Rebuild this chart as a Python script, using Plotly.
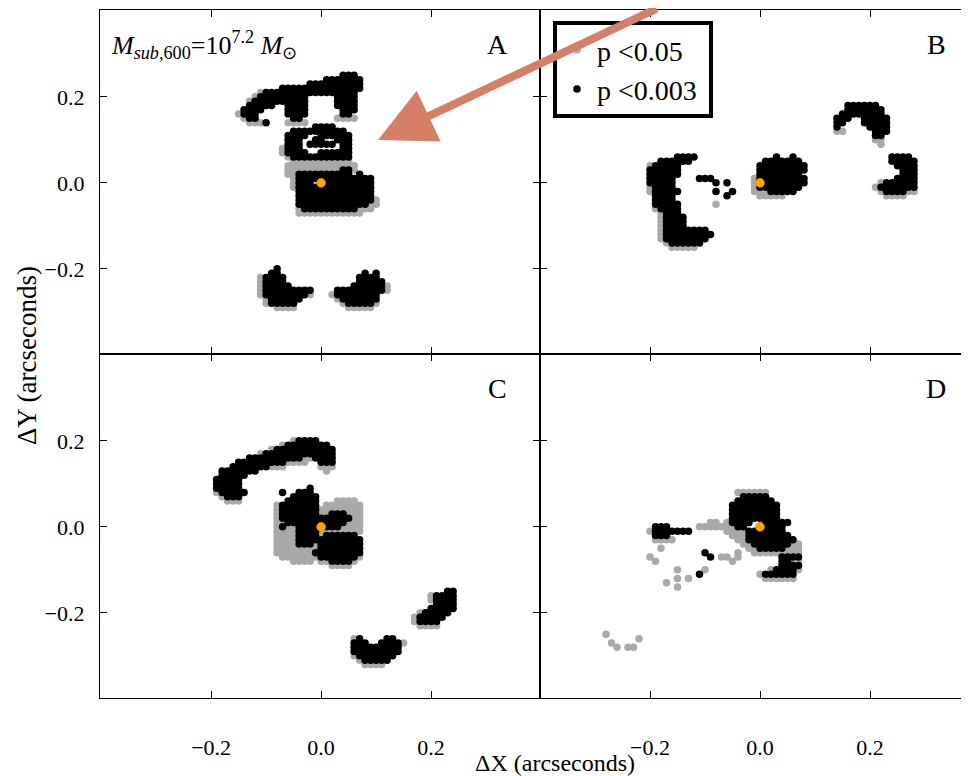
import plotly.graph_objects as go

GRID = 0.01  # grid step of the test positions (arcseconds)

# Each run: (row y-index, first x-index, last x-index) on the GRID lattice.
# ---------------- Panel A ----------------
A_black = [
    (25, 4, 6), (24, 1, 7), (23, -2, 7), (22, -7, 7), (21, -10, 6), (20, -11, -3), (20, 3, 6),
    (19, -12, -3), (19, 3, 6), (18, -13, -9), (18, -6, -3), (18, 3, 6), (17, -14, -11), (17, -6, -3),
    (17, 4, 6), (16, -14, -12), (16, -6, -3), (16, 4, 5), (15, -13, -12), (15, -5, -4), (14, -10, -10),
    (13, -1, 2), (12, -5, 4), (11, -6, -3), (11, 0, 5), (10, -6, -4), (10, -1, 0), (10, 3, 5),
    (9, -6, -4), (9, -2, 2), (9, 4, 5), (8, -6, -4), (8, 4, 5), (7, -6, -3), (7, 0, 5), (6, -5, 5),
    (3, 4, 5), (2, -4, 5), (2, 7, 7), (1, -4, 9), (0, -4, -2), (0, 1, 9), (-1, -4, 9), (-2, -4, 9),
    (-3, -4, 9), (-4, -4, 9), (-5, -4, 8), (-6, -3, 6),
    (-20, -8, -8), (-21, -9, -8), (-22, -10, -7), (-23, -10, -7), (-24, -10, -6), (-25, -10, -2),
    (-26, -10, -3), (-27, -9, -4), (-28, -9, -5),
    (-21, 8, 8), (-21, 10, 10), (-22, 7, 10), (-23, 7, 11), (-24, 6, 11), (-25, 3, 11), (-26, 3, 10),
    (-27, 4, 10), (-28, 5, 9),
]
A_gray = [
    (16, -15, -15), (15, -14, -14), (14, -13, -11), (14, -6, -3), (15, 3, 6), (19, -13, -13),
    (20, -12, -12), (21, -11, -11),
    (5, -5, 5), (6, -6, -6), (7, -7, -7), (8, -7, -7),
    (4, -6, 6), (3, -6, 6), (2, -6, -5), (1, -5, -5), (0, -5, -5), (-1, -5, -5), (-7, -4, 7),
    (-6, -4, -4), (-6, 7, 9), (-5, 9, 10), (-4, 10, 10),
    (-29, -8, -5), (-28, -10, -10), (-27, -10, -10), (-26, -11, -11), (-25, -11, -11),
    (-24, -11, -11), (-23, -11, -11), (-22, -11, -11), (-26, -2, -2),
    (-29, 5, 9), (-28, 4, 4), (-27, 3, 3), (-26, 2, 2), (-25, 12, 12), (-24, 12, 12), (-28, 10, 10),
]
# ---------------- Panel B ----------------
B_black = [
    (6, -15, -12), (5, -18, -13), (4, -19, -15), (3, -20, -15), (2, -20, -15), (1, -20, -16),
    (0, -20, -16), (-1, -19, -16), (-2, -19, -15), (-3, -19, -16), (-4, -19, -16), (-5, -19, -15),
    (-6, -18, -15), (-7, -17, -15), (-8, -17, -14), (-9, -17, -14), (-10, -17, -14), (-11, -17, -10),
    (-12, -17, -9), (-13, -17, -10), (-14, -16, -11),
    (1, -11, -9), (0, -8, -8), (0, -6, -6), (-2, -8, -8), (-2, -5, -5), (-3, -6, -6),
    (6, 3, 3), (6, 6, 6), (5, 1, 7), (4, 0, 8), (3, 0, 8), (2, 0, 7), (1, 0, 8), (0, 0, 8),
    (-1, 0, 7), (-2, 2, 6),
    (18, 16, 21), (17, 16, 22), (16, 15, 22), (15, 14, 16), (15, 19, 23), (14, 14, 15), (14, 19, 23),
    (13, 14, 14), (13, 20, 23), (12, 21, 23), (11, 21, 22),
    (6, 24, 27), (5, 24, 28), (4, 25, 28), (3, 26, 28), (2, 26, 28), (1, 25, 28), (0, 23, 28),
    (-1, 22, 28), (-2, 23, 26),
]
B_gray = [
    (4, -20, -20), (-1, -20, -20), (-2, -20, -20),
    (-6, -19, -19), (-7, -18, -18), (-8, -18, -18), (-9, -18, -18), (-10, -18, -18), (-11, -18, -18),
    (-12, -18, -18), (-13, -18, -18), (-14, -17, -17), (-15, -16, -12), (-5, -8, -8),
    (-3, 0, 4), (-2, 0, 1), (1, -1, -1), (0, -1, -1), (-1, -1, -1), (-2, -1, -1),
    (12, 14, 15), (10, 21, 22), (9, 22, 22),
    (-3, 23, 26), (-2, 22, 22), (-1, 21, 21), (0, 22, 22), (-2, 27, 28),
]
# ---------------- Panel C ----------------
C_black = [
    (20, -4, -1), (19, -6, 1), (18, -8, 2), (17, -10, 2), (16, -13, -4), (16, -1, 2), (15, -15, -7),
    (15, 0, 2), (14, -16, -10), (13, -18, -12), (12, -18, -14), (11, -19, -15), (10, -19, -15),
    (9, -19, -15), (8, -18, -14), (7, -17, -15),
    (9, -2, -2), (8, -7, -7), (8, -4, -2), (7, -5, -1), (6, -6, -1), (5, -7, -1), (4, -7, -1),
    (3, -7, -1), (3, 2, 4), (2, -7, 5), (1, -6, 4), (0, -7, -7), (0, -4, -1), (0, 1, 3),
    (-1, -4, -1), (-2, -4, -1), (-2, 1, 6), (-3, -4, 7), (-4, -4, -2), (-4, 0, 7), (-5, 0, 7),
    (-6, -1, 7), (-7, 0, 6), (-8, 2, 5),
    (-26, 7, 7), (-26, 12, 13), (-27, 6, 8), (-27, 11, 14), (-28, 6, 14), (-29, 6, 14), (-30, 7, 13),
    (-31, 8, 12),
    (-15, 23, 24), (-16, 21, 24), (-17, 21, 24), (-18, 21, 24), (-19, 20, 24), (-20, 19, 23),
    (-21, 18, 22), (-22, 18, 21),
]
C_gray = [
    (6, -17, -15), (7, -18, -18), (8, -19, -19), (14, -9, -7), (15, -6, -3), (16, -3, -2),
    (14, 0, 2), (13, 1, 1), (17, -11, -11), (18, -9, -9), (19, -7, -7), (20, -5, -5),
    (6, 3, 6), (5, 1, 7), (4, 0, 7), (3, 0, 1), (3, 5, 7), (2, 6, 7), (1, -8, -7), (1, 5, 7),
    (0, -8, -8), (0, -6, -5), (0, 4, 7), (-1, -8, -5), (-1, 0, 7), (-2, -8, -5), (-2, 0, 0),
    (-3, -8, -5), (-4, -8, -5), (-4, -1, -1), (-5, -8, -1), (-6, -8, -2), (-7, -7, -1), (-8, -5, -2),
    (-9, 2, 5), (-8, 0, 1), (-8, 6, 6), (-7, 7, 7), (2, -8, -8), (3, -8, -8), (4, -8, -8), (5, -8, -8),
    (-32, 8, 11), (-31, 7, 7), (-30, 6, 6), (-26, 6, 6), (-27, 15, 15),
    (-23, 18, 21), (-22, 17, 17), (-21, 17, 17), (-20, 18, 18), (-16, 20, 20), (-17, 20, 20),
]
# ---------------- Panel D ----------------
D_black = [
    (7, -3, 1), (6, -4, 2), (5, -5, 3), (4, -5, 3), (3, -5, 3), (2, -5, 3), (1, -5, -2), (1, 1, 5),
    (0, -4, -3), (0, 0, 4), (-1, -2, 4), (-2, -2, 5), (-3, -2, 6), (-4, -1, 5), (-5, 0, 4),
    (-7, 4, 7), (-8, 4, 5), (-9, 4, 7), (-10, 3, 6), (-11, 1, 6),
    (0, -19, -17), (-1, -19, -13), (-2, -19, -17),
    (-6, -10, -10), (-7, -9, -9), (-11, -11, -11),
]
D_gray = [
    (8, -4, 1), (1, -6, -6), (0, -6, -5), (-1, -6, -3), (-2, -5, -3), (-3, -4, -3), (-4, -3, -2),
    (-5, -2, -1), (-6, -1, 4), (-4, 6, 7), (-5, 5, 7), (-6, 5, 7),
    (-12, 1, 6), (-10, 2, 2), (-11, 0, 0), (-8, 6, 7), (-10, 7, 7),
    (-3, -19, -16), (-1, -20, -20),
    (0, -11, -7), (1, -9, -8), (0, -5, -3), (1, -5, -4),
    (-5, -18, -18), (-7, -20, -20), (-8, -19, -19), (-10, -15, -15), (-12, -15, -15),
    (-12, -13, -13), (-13, -17, -17), (-14, -15, -15), (-10, -10, -10), (-7, -7, -7),
    (-8, -5, -5), (-7, -4, -4), (-6, -4, -4), (-7, -6, -6),
    (-25, -28, -28), (-27, -27, -27), (-28, -26, -26), (-28, -24, -23), (-26, -22, -22),
]

PANELS = [("A", A_gray, A_black), ("B", B_gray, B_black), ("C", C_gray, C_black), ("D", D_gray, D_black)]
LENS_CENTER = (0.0, 0.0)
LEGEND_LABELS = ["p &lt;0.05", "p &lt;0.003&nbsp;"]
TICKS = [-0.2, 0.0, 0.2]
TICK_TEXT = ["\u22120.2", "0.0", "0.2"]

GRAY = "#a9a9a9"
BLACK = "#000000"
ORANGE = "#ffa500"
SERIF = "Liberation Serif, Times New Roman, serif"


def expand(runs):
    xs, ys = [], []
    for gy, a, b in runs:
        for gx in range(a, b + 1):
            xs.append(gx * GRID)
            ys.append(gy * GRID)
    return xs, ys


fig = go.Figure()
axis_names = ["", "2", "3", "4"]
for i, (name, gray, black) in enumerate(PANELS):
    ax = axis_names[i]
    gx, gyv = expand(gray)
    bx, byv = expand(black)
    fig.add_trace(go.Scatter(x=gx, y=gyv, mode="markers", xaxis="x" + ax, yaxis="y" + ax,
                             marker=dict(color=GRAY, size=7.5, line=dict(width=0)),
                             name=LEGEND_LABELS[0], legendgroup="g", showlegend=(i == 0),
                             hoverinfo="skip"))
    fig.add_trace(go.Scatter(x=bx, y=byv, mode="markers", xaxis="x" + ax, yaxis="y" + ax,
                             marker=dict(color=BLACK, size=7.5, line=dict(width=0)),
                             name=LEGEND_LABELS[1], legendgroup="b", showlegend=(i == 0),
                             hoverinfo="skip"))
    fig.add_trace(go.Scatter(x=[LENS_CENTER[0]], y=[LENS_CENTER[1]], mode="markers",
                             xaxis="x" + ax, yaxis="y" + ax,
                             marker=dict(color=ORANGE, size=9, line=dict(width=0.6, color="#d98c00")),
                             showlegend=False, hoverinfo="skip"))

# The page body has an 8px margin, so figure pixels = screen pixels - 8.
OFF = 8
W, H = 969 - OFF, 776 - OFF
L, R, T, B = 100 - OFF, 0, 10 - OFF, 78
pw = W - L - R          # 869
ph = H - T - B          # 688
split = 440 / pw

common = dict(showgrid=False, zeroline=False, ticks="inside", ticklen=7, tickwidth=1.2,
              tickcolor="black", showline=True, linecolor="black", linewidth=1.4,
              tickvals=TICKS, ticktext=TICK_TEXT,
              tickfont=dict(family=SERIF, size=22, color="black"))
xl_range = [-0.402, 0.398]
xr_range = [-0.400, -0.400 + (pw - 440) / 550]
yr = [-0.398, 0.402]

layout_axes = {}
specs = [
    ("", [0, split], [0.5, 1], xl_range, False, True, "y", "x", True),
    ("2", [split, 1], [0.5, 1], xr_range, False, False, "y2", "x2", False),
    ("3", [0, split], [0, 0.5], xl_range, True, True, "y3", "x3", True),
    ("4", [split, 1], [0, 0.5], xr_range, True, False, "y4", "x4", False),
]
for ax, xd, yd, xrng, showx, showy, anchy, anchx, ymirror in specs:
    layout_axes["xaxis" + ax] = dict(common, domain=xd, range=xrng, anchor=anchy,
                                     showticklabels=showx, mirror="ticks", ticklabelstandoff=29)
    layout_axes["yaxis" + ax] = dict(common, domain=yd, range=yr, anchor=anchx,
                                     showticklabels=showy, mirror=("ticks" if ymirror else False),
                                     ticklabelstandoff=10)

fig.update_layout(**layout_axes)


def px2paper(sx, sy):
    """screen pixel -> paper coordinate"""
    fx, fy = sx - OFF, sy - OFF
    return (fx - L) / pw, (T + ph - fy) / ph


annotations = []
for letter, (px, py) in zip("ABCD", [(497, 45), (936, 45), (497, 388), (936, 388)]):
    x, y = px2paper(px, py)
    annotations.append(dict(text=letter, x=x, y=y, xref="paper", yref="paper", showarrow=False,
                            xanchor="center", yanchor="middle",
                            font=dict(family=SERIF, size=28, color="black")))
x, y = px2paper(109, 45)
annotations.append(dict(text="<i>M</i><sub><i>sub</i>,600</sub>=10<sup>7.2</sup> <i>M</i><sub>\u2299</sub>",
                        x=x, y=y, xref="paper", yref="paper", showarrow=False,
                        xanchor="left", yanchor="middle",
                        font=dict(family=SERIF, size=26, color="black")))
x, y = px2paper(555, 763)
annotations.append(dict(text="\u0394X (arcseconds)", x=x, y=y, xref="paper", yref="paper",
                        showarrow=False, xanchor="center", yanchor="middle",
                        font=dict(family=SERIF, size=24, color="black")))
x, y = px2paper(27, 356)
annotations.append(dict(text="\u0394Y (arcseconds)", x=x, y=y, xref="paper", yref="paper",
                        showarrow=False, xanchor="center", yanchor="middle", textangle=-90,
                        font=dict(family=SERIF, size=27, color="black")))
# arrow
tx, ty = px2paper(378, 140)
annotations.append(dict(text="", x=tx, y=ty, xref="paper", yref="paper", showarrow=True,
                        ax=280, ay=-145, axref="pixel", ayref="pixel",
                        arrowhead=2, arrowsize=1.4, arrowwidth=8, arrowcolor="#d47f66"))

lx, ly = px2paper(553, 21)
fig.update_layout(
    width=W, height=H, margin=dict(l=L, r=R, t=T, b=B, autoexpand=False),
    paper_bgcolor="white", plot_bgcolor="white",
    annotations=annotations,
    showlegend=True,
    legend=dict(x=lx, y=ly, xanchor="left", yanchor="top", bgcolor="white",
                bordercolor="black", borderwidth=4, tracegroupgap=0,
                font=dict(family=SERIF, size=28, color="black")),
)

fig.write_html("out.html")
